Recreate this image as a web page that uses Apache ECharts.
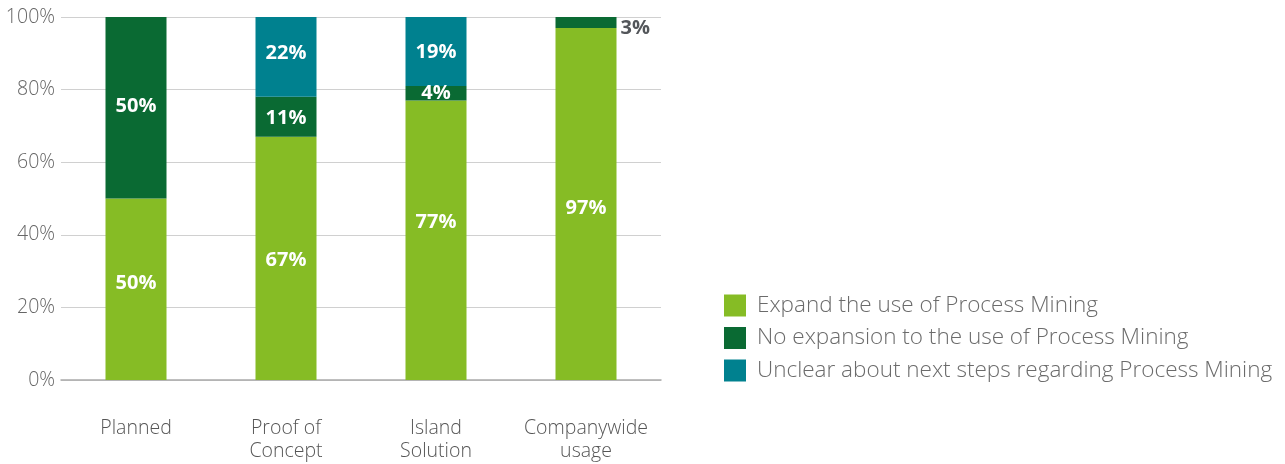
<!DOCTYPE html>
<html><head><meta charset="utf-8">
<script src="https://cdn.jsdelivr.net/npm/echarts@6/dist/echarts.min.js"></script>
<style>html,body{margin:0;padding:0;background:#fff}#c{width:1285px;height:464px}</style>
</head><body><div id="c"></div>
<script>
const categories = ["Planned", "Proof of\nConcept", "Island\nSolution", "Companywide\nusage"];
const expandVals = [50, 67, 77, 97];
const noExpVals = [50, 11, 4, 3];
const unclearVals = [0, 22, 19, 0];
const seriesNames = ["Expand the use of Process Mining", "No expansion to the use of Process Mining", "Unclear about next steps regarding Process Mining"];
const colors = ["#86BC25", "#0A6A33", "#00818F"];

// label nudges (styling only)
const labelOffsets = [
  [[0,-6],[0,2],[0,-18],[0,4]],
  [[0,-1],[0,1],[0,0],null],
  [[0,0],[0,-4],[0,1],[0,0]]
];

const chart = echarts.init(document.getElementById('c'));
const font = '"Open Sans", sans-serif';
function inside(v){ return v > 0 ? v + '%' : ''; }
function mkData(vals, s){
  return vals.map((v, i) => {
    if (s === 1 && i === 3) {
      return {value: v, label: {position: 'right', color: '#53565A', offset: [-1, 6]}};
    }
    return {value: v, label: {offset: labelOffsets[s][i]}};
  });
}
const labelBase = {show: true, color: '#fff', fontFamily: font, fontWeight: 'bold', fontSize: 20,
  formatter: p => inside(p.value)};
chart.setOption({
  animation: false,
  color: colors,
  grid: {left: 61, right: 624, top: 17, bottom: 84, containLabel: false},
  legend: {
    orient: 'vertical', left: 719, top: 289,
    itemWidth: 22, itemHeight: 22, itemGap: 9.5,
    icon: 'rect',
    textStyle: {fontFamily: font, fontWeight: 300, fontSize: 22.5, color: '#6b6b6b', padding: [0,0,0,6]},
    data: seriesNames
  },
  xAxis: {
    type: 'category', data: categories,
    axisLine: {lineStyle: {color: '#aaa', width: 1.5}},
    axisTick: {show: false},
    axisLabel: {interval: 0, fontFamily: font, fontWeight: 300, fontSize: 19.5, color: '#555', margin: 37, lineHeight: 23}
  },
  yAxis: {
    type: 'value', min: 0, max: 100, interval: 20,
    axisLine: {show: false}, axisTick: {show: false},
    splitLine: {lineStyle: {color: '#d0d0d0', width: 1}},
    axisLabel: {fontFamily: font, fontWeight: 300, fontSize: 19.5, color: '#666', margin: 6, formatter: '{value}%'}
  },
  series: [
    {name: seriesNames[0], type: 'bar', stack: 's', barWidth: 61, data: mkData(expandVals, 0), label: labelBase},
    {name: seriesNames[1], type: 'bar', stack: 's', barWidth: 61, data: mkData(noExpVals, 1), label: labelBase},
    {name: seriesNames[2], type: 'bar', stack: 's', barWidth: 61, data: mkData(unclearVals, 2), label: labelBase}
  ]
});
</script></body></html>
